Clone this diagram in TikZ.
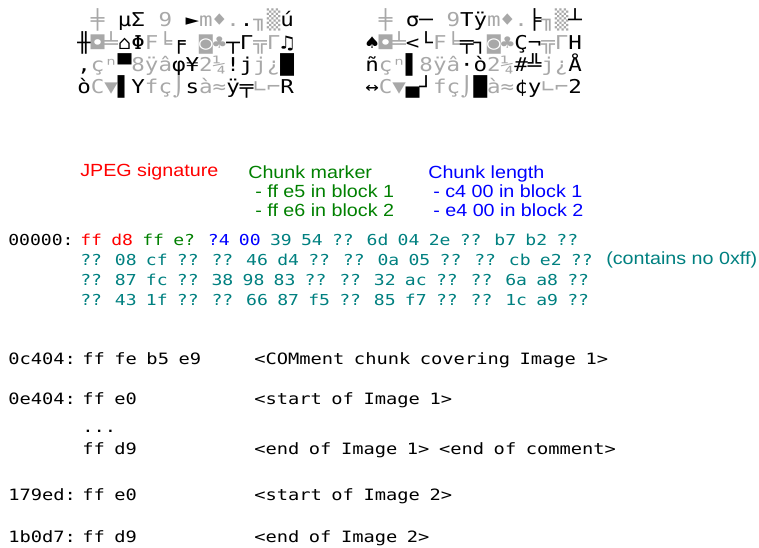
\documentclass[tikz,border=0pt]{standalone}
\usepackage{fontspec}
\setmainfont{Liberation Sans}[FakeStretch=1.12]
\newfontfamily\cpfont{DejaVu Sans Mono}[FakeStretch=1.18]
\newfontfamily\hexfont{DejaVu Sans Mono}[FakeStretch=1.2,WordSpace=0.85]
\usetikzlibrary{positioning}
\definecolor{lite}{HTML}{A8A8A8}
\definecolor{sigred}{HTML}{FF0000}
\definecolor{markgreen}{HTML}{008000}
\definecolor{lenblue}{HTML}{0000FF}
\definecolor{datateal}{HTML}{008080}
\newcommand\gr[1]{\textcolor{lite}{#1}}
\newcommand\bl{\phantom{0}}
\tikzset{
  cprow/.style={anchor=base west,inner sep=0pt,font=\cpfont\fontsize{14.3}{16}\selectfont},
  hexrow/.style={anchor=base west,inner sep=0pt,font=\hexfont\fontsize{11.3}{15}\selectfont},
  hexlow/.style={hexrow,font=\hexfont\fontsize{11.7}{15}\selectfont},
  note/.style={anchor=north west,inner sep=0pt,align=left,font=\fontsize{13.2}{14.6}\selectfont},
  lbl/.style={anchor=base west,inner sep=0pt,font=\fontsize{13.2}{14.6}\selectfont},
  x=0.75pt,y=-0.75pt
}
\begin{document}
\begin{tikzpicture}
  \useasboundingbox (0,0) rectangle (759,548);
  % the two blocks, code page 437
  \node[cprow] (la) at (77,27) {\bl\gr{╪}\bl µΣ\bl\gr{9}\bl ►\gr{m♦.}.\gr{╖▒}ú};
  \node[cprow] (lb) at (77,49.3) {╫\gr{◘╧}⌂Φ\gr{F╘}╒\bl\gr{◙♣}┬Γ\gr{╦Γ}♫};
  \node[cprow] (lc) at (77,71.6) {,\gr{çⁿ}▀\gr{8ÿâ}φ¥\gr{2¼}!j\gr{j¿}█};
  \node[cprow] (ld) at (77,94) {ò\gr{C▼}▌Y\gr{fç⌡}s\gr{à≈}ÿ╤\gr{∟⌐}R};
  \node[cprow] (ra) at (365,27) {\bl\gr{╪}\bl σ─\bl\gr{9}Tÿ\gr{m♦.}╞\gr{╖▒}┴};
  \node[cprow] (rb) at (365,49.3) {♠\gr{◘╧}<└\gr{F╘}╤┐\gr{◙♣}Ç¬\gr{╦Γ}H};
  \node[cprow] (rc) at (365,71.6) {ñ\gr{çⁿ}▌\gr{8ÿâ}·ò\gr{2¼}\#╩\gr{j¿}Å};
  \node[cprow] (rd) at (365,94) {↔\gr{C▼}▄┘\gr{fç⌡}█\gr{à≈}¢y\gr{∟⌐}2};

  \node[lbl,text=sigred] (jpeg) at (80,177) {JPEG signature};
  \node[note,text=markgreen] (marker) at (248,165)
    {Chunk marker\\\hspace*{5.3pt}- ff e5 in block 1\\\hspace*{5.3pt}- ff e6 in block 2};
  \node[note,text=lenblue] (length) at (428,165)
    {Chunk length\\\hspace*{3.8pt}- c4 00 in block 1\\\hspace*{3.8pt}- e4 00 in block 2};

  % first block of the file
  \node[hexrow] (addr) at (8,246) {00000:};
  \node[hexrow,text=datateal] (hxa) at (80,246)
    {\textcolor{sigred}{ff d8} \textcolor{markgreen}{ff e?} \textcolor{lenblue}{?4 00} 39 54 ?? 6d 04 2e ?? b7 b2 ??};
  \node[hexrow,text=datateal] (hxb) at (80,266) {?? 08 cf ?? ?? 46 d4 ?? ?? 0a 05 ?? ?? cb e2 ??};
  \node[hexrow,text=datateal] (hxc) at (80,286) {?? 87 fc ?? 38 98 83 ?? ?? 32 ac ?? ?? 6a a8 ??};
  \node[hexrow,text=datateal] (hxd) at (80,306) {?? 43 1f ?? ?? 66 87 f5 ?? 85 f7 ?? ?? 1c a9 ??};
  \node[lbl,text=datateal] (noff) at (606,265) {(contains no 0xff)};

  % markers further on
  \node[hexlow] (oa) at (8,364) {0c404:};
  \node[hexlow] (ba) at (82,364) {ff fe b5 e9};
  \node[hexlow] (ca) at (254,364) {<COMment chunk covering Image 1>};
  \node[hexlow] (ob) at (8,404) {0e404:};
  \node[hexlow] (bb) at (82,404) {ff e0};
  \node[hexlow] (cb) at (254,404) {<start of Image 1>};
  \node[hexlow] (dots) at (82,432) {...};
  \node[hexlow] (bc) at (82,454) {ff d9};
  \node[hexlow] (cc) at (254,454) {<end of Image 1> <end of comment>};
  \node[hexlow] (od) at (8,500) {179ed:};
  \node[hexlow] (bd) at (82,500) {ff e0};
  \node[hexlow] (cd) at (254,500) {<start of Image 2>};
  \node[hexlow] (oe) at (8,542) {1b0d7:};
  \node[hexlow] (be) at (82,542) {ff d9};
  \node[hexlow] (ce) at (254,542) {<end of Image 2>};
\end{tikzpicture}
\end{document}
